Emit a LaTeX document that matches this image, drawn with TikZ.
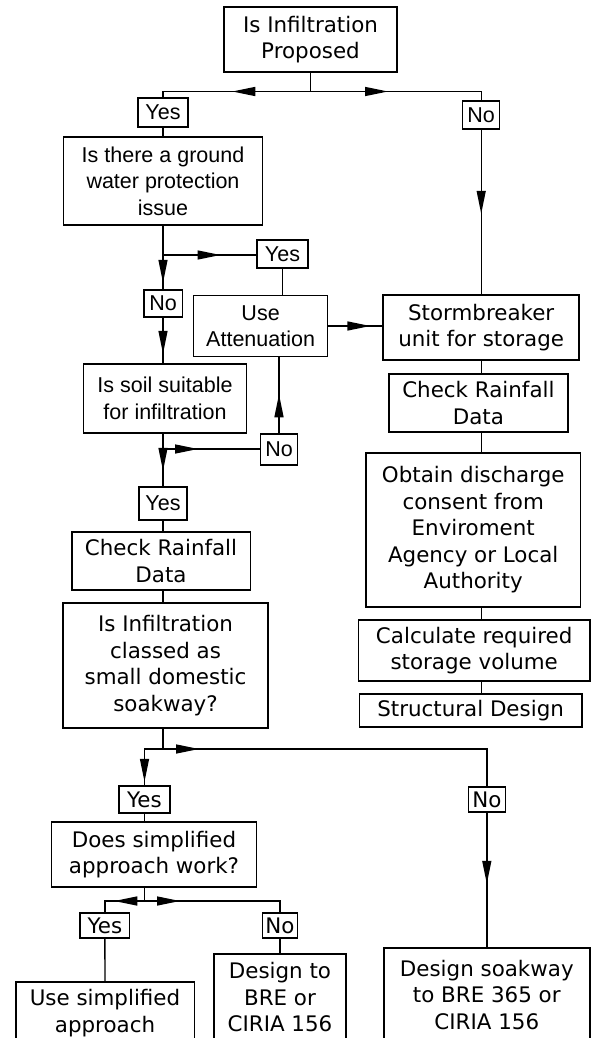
\documentclass[tikz,border=0pt]{standalone}
\usepackage{fontspec}
\setmainfont{DejaVu Sans}
\newfontfamily\arialf{Liberation Sans}
\usetikzlibrary{arrows.meta,decorations.markings}
\tikzset{
  box/.style={draw, line width=1.5pt, align=center, inner sep=2pt, font=\fontsize{21.4}{26.5}\selectfont},
  abox/.style={box, font=\arialf\fontsize{21.5}{26.5}\selectfont},
  conn/.style={line width=1.4pt},
  arrowat/.style={postaction={decorate,decoration={markings,mark=at position #1 with {\arrow{Triangle[length=23pt,width=9pt]}}}}},
}
\begin{document}
\begin{tikzpicture}[x=1pt,y=-1pt]
\useasboundingbox (0,0) rectangle (592,1038);
\fill[white] (0,0) rectangle (592,1038);
\clip (0,0) rectangle (592,1038);

\node[box, minimum width=173pt, minimum height=65pt] (top) at (310.5,39.5) {Is Infiltration\\Proposed};
\node[abox, minimum width=50pt, minimum height=29pt] (yes1) at (163,112.5) {Yes};
\node[abox, minimum width=37pt, minimum height=28pt] (no1) at (481.2,115) {No};
\node[abox, minimum width=199pt, minimum height=88pt] (gw) at (163,181) {Is there a ground\\water protection\\issue};
\node[abox, minimum width=51pt, minimum height=28pt] (yes2) at (282.5,254) {Yes};
\node[abox, minimum width=38.5pt, minimum height=27pt] (no2) at (163,303.5) {No};
\node[abox, minimum width=134pt, minimum height=61pt] (att) at (260.6,326) {Use\\Attenuation};
\node[box, minimum width=196pt, minimum height=65pt] (storm) at (481.2,327.5) {Stormbreaker\\unit for storage};
\node[abox, minimum width=162.6pt, minimum height=69pt] (soil) at (165,398.5) {Is soil suitable\\for infiltration};
\node[box, minimum width=179pt, minimum height=58pt] (crR) at (478.4,403) {Check Rainfall\\Data};
\node[abox, minimum width=37pt, minimum height=31pt] (no3) at (279,449.5) {No};
\node[box, minimum width=214.4pt, minimum height=154pt] (obtain) at (473.2,530) {Obtain discharge\\consent from\\Enviroment\\Agency or Local\\Authority};
\node[abox, minimum width=48pt, minimum height=33pt] (yes3) at (163,503.5) {Yes};
\node[box, minimum width=178.5pt, minimum height=58pt] (crL) at (161,561) {Check Rainfall\\Data};
\node[box, minimum width=205pt, minimum height=125pt] (cls) at (165.5,665.5) {Is Infiltration\\classed as\\small domestic\\soakway?};
\node[box, minimum width=231.4pt, minimum height=61pt] (calc) at (474.2,650.5) {Calculate required\\storage volume};
\node[box, minimum width=222.7pt, minimum height=33pt] (struct) at (470.6,710.5) {Structural Design};
\node[box, minimum width=51pt, minimum height=27pt] (yes4) at (144.5,799.5) {Yes};
\node[box, minimum width=37pt, minimum height=25pt] (no4) at (486.8,799.5) {No};
\node[box, minimum width=205pt, minimum height=65pt] (simp) at (154,854.5) {Does simplified\\approach work?};
\node[box, minimum width=49.4pt, minimum height=25pt] (yes5) at (104.9,925.5) {Yes};
\node[box, minimum width=35pt, minimum height=25pt] (no5) at (280,925.5) {No};
\node[box, minimum width=178.5pt, minimum height=62pt] (usesimp) at (105,1013) {Use simplified\\approach};
\node[box, minimum width=132pt, minimum height=87pt] (bre) at (280,997.5) {Design to\\BRE or\\CIRIA 156};
\node[box, minimum width=206pt, minimum height=94pt] (soak) at (486.8,995) {Design soakway\\to BRE 365 or\\CIRIA 156};

\coordinate (j1) at (310.5,91.5);
\coordinate (j2) at (163,255);
\coordinate (j3) at (163,449);
\coordinate (j4) at (163,749);
\coordinate (j5) at (144.5,901);

\draw[conn, arrowat=97pt] (top.south) -- (j1) -| (yes1.north);
\draw[conn, arrowat=77.5pt] (j1) -| (no1.north);
\draw[conn] (yes1.south) -- (gw.north);
\draw[conn, arrowat=84pt] (no1.south) -- (no1.south |- storm.north);
\draw[conn, arrowat=57pt] (gw.south) -- (no2.north);
\draw[conn, arrowat=57.5pt] (j2) -- (j2 -| yes2.west);
\draw[conn] (yes2.south) -- (yes2.south |- att.north);
\draw[conn, arrowat=36pt] (no2.south) -- (no2.south |- soil.north);
\draw[conn, arrowat=42pt] (att.east) -- (att.east -| storm.west);
\draw[conn, arrowat=37pt] (yes3.north |- soil.south) -- (yes3.north);
\draw[conn, arrowat=35pt] (j3) -- (j3 -| no3.west);
\draw[conn, arrowat=39pt] (no3.north) -- (no3.north |- att.south);
\draw[conn] (yes3.south) -- (yes3.south |- crL.north);
\draw[conn] (crL.south -| yes3) -- (cls.north -| yes3);
\draw[conn, arrowat=71.5pt] (cls.south -| yes3) -- (j4) -| (yes4.north);
\draw[conn, arrowat=36pt] (j4) -| (no4.north);
\draw[conn, arrowat=71pt] (no4.south) -- (soak.north);
\draw[conn] (yes4.south) -- (yes4.south |- simp.north);
\draw[conn, arrowat=43.5pt] (simp.south -| yes4) -- (j5) -| (yes5.north);
\draw[conn, arrowat=35.5pt] (j5) -| (no5.north);
\draw[conn] (yes5.south) -- (usesimp.north);
\draw[conn] (no5.south) -- (bre.north);
\draw[conn] (storm.south) -- (crR.north -| storm);
\draw[conn] (crR.south -| storm) -- (obtain.north -| storm);
\draw[conn] (obtain.south -| storm) -- (calc.north -| storm);
\draw[conn] (calc.south -| storm) -- (struct.north -| storm);
\end{tikzpicture}
\end{document}
